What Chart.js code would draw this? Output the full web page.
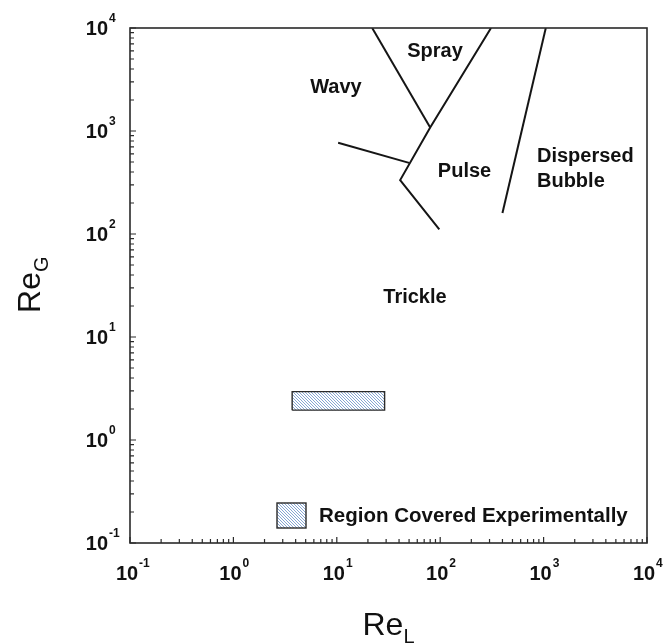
<!DOCTYPE html>
<html>
<head>
<meta charset="utf-8">
<script src="https://cdn.jsdelivr.net/npm/chart.js@4/dist/chart.umd.min.js"></script>
<style>
  html, body { margin: 0; padding: 0; background: #fff; }
  #wrap { width: 664px; height: 644px; position: relative; }
</style>
</head>
<body>
<div id="wrap"><canvas id="flowMap"></canvas></div>
<script>
// flow regime boundaries, Re_L on x, Re_G on y
const sprayWavyReL = [22, 80];
const sprayWavyReG = [10000, 1080];
const pulseReL = [310, 80, 41, 98];
const pulseReG = [10000, 1080, 334, 111];
const wavyTrickleReL = [10.3, 50];
const wavyTrickleReG = [770, 490];
const bubbleReL = [1050, 400];
const bubbleReG = [10000, 160];

// experimental window (box corners)
const expReL = [3.7, 29, 29, 3.7, 3.7];
const expReG = [1.95, 1.95, 2.95, 2.95, 1.95];

// region names and where they sit in (Re_L, Re_G)
const regionNames = ['Spray', 'Wavy', 'Pulse', 'Dispersed', 'Bubble', 'Trickle'];
const regionReL = [89, 9.8, 172, 863, 863, 57];
const regionReG = [5980, 2670, 409, 560, 320, 24];
const regionAlign = ['center', 'center', 'center', 'left', 'left', 'center'];

const decades = [-1, 0, 1, 2, 3, 4];
const legendText = 'Region Covered Experimentally';

const FONT = '"Liberation Sans", Arial, Helvetica, sans-serif';

function pts(xs, ys) {
    return xs.map((x, i) => ({ x: x, y: ys[i] }));
}

// light blue diagonal hatch
function makeHatch() {
    const c = document.createElement('canvas');
    c.width = 3; c.height = 3;
    const g = c.getContext('2d');
    g.fillStyle = '#ffffff';
    g.fillRect(0, 0, 3, 3);
    g.strokeStyle = '#86a6d3';
    g.lineWidth = 1;
    g.beginPath();
    g.moveTo(-1, -1); g.lineTo(4, 4);
    g.moveTo(-1, 2); g.lineTo(1, 4);
    g.moveTo(2, -1); g.lineTo(4, 1);
    g.stroke();
    return g.createPattern(c, 'repeat');
}
const hatch = makeHatch();

function lineSet(xs, ys) {
    return {
        data: pts(xs, ys),
        showLine: true,
        borderColor: '#151515',
        borderWidth: 2,
        pointRadius: 0,
        fill: false
    };
}

function drawPow(ctx, exp, x, y, anchor) {
    // draws 10^exp; anchor 'x' => centred under x, 'y' => right edge at x
    const base = '10';
    ctx.font = 'bold 20px ' + FONT;
    const bw = ctx.measureText(base).width;
    ctx.textBaseline = 'alphabetic';
    ctx.textAlign = 'left';
    const bx = anchor === 'x' ? x - bw / 2 - 3 : x - bw;
    ctx.fillText(base, bx, y);
    ctx.font = 'bold 12px ' + FONT;
    ctx.fillText(exp < 0 ? '-' + Math.abs(exp) : String(exp), bx + bw + 1, y - 13);
}

const decorPlugin = {
    id: 'decor',
    afterDatasetsDraw(chart) {
        const ctx = chart.ctx;
        const a = chart.chartArea;
        const xs = chart.scales.x, ys = chart.scales.y;
        ctx.save();

        // frame
        ctx.strokeStyle = '#2a2a2a';
        ctx.lineWidth = 1.6;
        ctx.strokeRect(a.left, a.top, a.right - a.left, a.bottom - a.top);

        // inward tick marks on left and bottom
        ctx.lineWidth = 1.2;
        ctx.beginPath();
        decades.forEach(d => {
            for (let m = 1; m <= 9; m++) {
                const v = m * Math.pow(10, d);
                if (v > 10000) break;
                const len = m === 1 ? 6 : 4;
                const px = xs.getPixelForValue(v);
                const py = ys.getPixelForValue(v);
                ctx.moveTo(px, a.bottom);
                ctx.lineTo(px, a.bottom - len);
                ctx.moveTo(a.left, py);
                ctx.lineTo(a.left + len, py);
            }
        });
        ctx.stroke();

        // tick labels
        ctx.fillStyle = '#111';
        decades.forEach(d => {
            const v = Math.pow(10, d);
            drawPow(ctx, d, xs.getPixelForValue(v), a.bottom + 37, 'x');
            drawPow(ctx, d, a.left - 22, ys.getPixelForValue(v) + 7, 'y');
        });

        // region names
        ctx.font = 'bold 20px ' + FONT;
        ctx.textBaseline = 'middle';
        regionNames.forEach((name, i) => {
            ctx.textAlign = regionAlign[i];
            const px = xs.getPixelForValue(regionReL[i]);
            const py = ys.getPixelForValue(regionReG[i]);
            ctx.fillText(name, px, py);
        });

        // legend entry
        const lx = a.left + 147, ly = a.bottom - 40;
        ctx.fillStyle = hatch;
        ctx.fillRect(lx, ly, 29, 25);
        ctx.strokeStyle = '#2a2a2a';
        ctx.lineWidth = 1.4;
        ctx.strokeRect(lx, ly, 29, 25);
        ctx.fillStyle = '#111';
        ctx.font = 'bold 20.5px ' + FONT;
        ctx.textAlign = 'left';
        ctx.textBaseline = 'middle';
        ctx.fillText(legendText, lx + 42, ly + 13);

        // axis titles
        ctx.font = '32px ' + FONT;
        ctx.textBaseline = 'alphabetic';
        const cx = (a.left + a.right) / 2;
        const reW = ctx.measureText('Re').width;
        ctx.font = '20px ' + FONT;
        const lW = ctx.measureText('L').width;
        const x0 = cx - (reW + lW) / 2;
        ctx.font = '32px ' + FONT;
        ctx.fillText('Re', x0, 635);
        ctx.font = '20px ' + FONT;
        ctx.fillText('L', x0 + reW, 643);

        ctx.translate(40, (a.top + a.bottom) / 2);
        ctx.rotate(-Math.PI / 2);
        ctx.font = '32px ' + FONT;
        const y0 = -(reW + 14) / 2;
        ctx.fillText('Re', y0, 0);
        ctx.font = '20px ' + FONT;
        ctx.fillText('G', y0 + reW, 8);
        ctx.restore();
    }
};

const expSet = {
    data: pts(expReL, expReG),
    showLine: true,
    borderColor: '#2a2a2a',
    borderWidth: 1.4,
    pointRadius: 0,
    backgroundColor: hatch,
    fill: 'shape'
};

new Chart(document.getElementById('flowMap'), {
    type: 'scatter',
    data: {
        datasets: [
            expSet,
            lineSet(sprayWavyReL, sprayWavyReG),
            lineSet(pulseReL, pulseReG),
            lineSet(wavyTrickleReL, wavyTrickleReG),
            lineSet(bubbleReL, bubbleReG)
        ]
    },
    options: {
        responsive: true,
        maintainAspectRatio: false,
        animation: false,
        layout: { padding: { left: 130, top: 28, right: 17, bottom: 101 } },
        plugins: { legend: { display: false }, tooltip: { enabled: false } },
        scales: {
            x: { type: 'logarithmic', min: 0.1, max: 10000, display: false },
            y: { type: 'logarithmic', min: 0.1, max: 10000, display: false }
        }
    },
    plugins: [decorPlugin]
});
</script>
</body>
</html>
